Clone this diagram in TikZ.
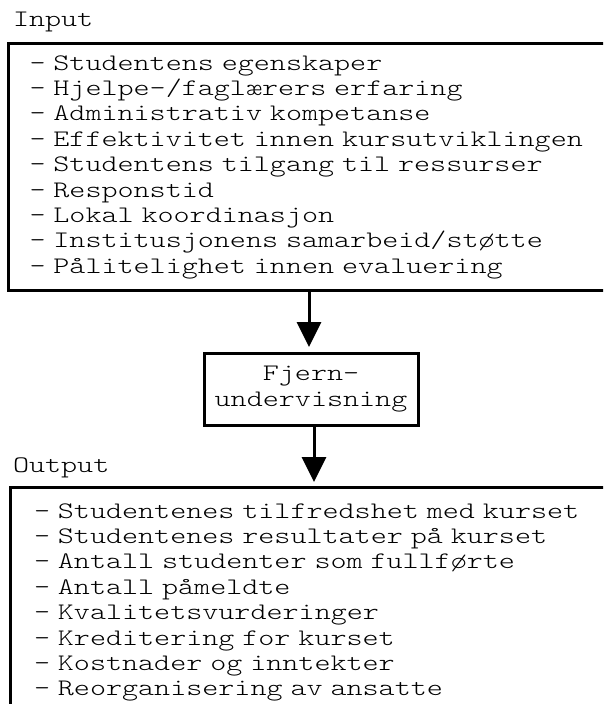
\documentclass[tikz,border=0pt]{standalone}
\usepackage{fontspec}
\setmainfont{lmmonolt10-regular.otf}[FakeStretch=1.29]
\usepackage{tikz}
\usetikzlibrary{positioning}
\usetikzlibrary{arrows.meta}

\newcommand{\listfont}{\fontsize{23.7pt}{25.4pt}\selectfont
  \setbox0\hbox{x}\fontdimen2\font=\wd0
  \fontdimen3\font=0pt \fontdimen4\font=0pt}
\newcommand{\topstrut}{\rule{0pt}{19pt}}
\newcommand{\botstrut}{\rule[-9pt]{0pt}{9pt}}

\begin{document}
\begin{tikzpicture}[
      x=1pt, y=-1pt,
      listbox/.style={draw, line width=3pt, outer sep=0pt, anchor=north west,
        align=left, text width=600pt, font=\listfont},
      midbox/.style={draw, line width=3pt, outer sep=0pt, align=center,
        minimum width=214pt, minimum height=72pt, font=\listfont},
      boxlabel/.style={font=\listfont, anchor=base west},
      flow/.style={line width=3pt, -{Triangle[width=24pt,length=25pt]}}
    ]
    \useasboundingbox (0,0) rectangle (603,704);
    \clip (0,0) rectangle (603,704);

    \node[listbox, inner xsep=21pt, inner ysep=8pt] (inbox) at (8.5,43) {
        \topstrut- Studentens egenskaper\\
        - Hjelpe-/faglærers erfaring\\
        - Administrativ kompetanse\\
        - Effektivitet innen kursutviklingen\\
        - Studentens tilgang til ressurser\\
        - Responstid\\
        - Lokal koordinasjon\\
        - Institusjonens samarbeid/støtte\\
        - Pålitelighet innen evaluering\botstrut
      };
    \node[above right=17pt and 1pt of inbox.north west, boxlabel] (inlabel) {Input};

    \node[midbox] (mid) at (311,389) {Fjern-\\undervisning};

    \node[listbox, inner xsep=24pt, inner ysep=12pt] (outbox) at (10,487) {
        \topstrut- Studentenes tilfredshet med kurset\\
        - Studentenes resultater på kurset\\
        - Antall studenter som fullførte\\
        - Antall påmeldte\\
        - Kvalitetsvurderinger\\
        - Kreditering for kurset\\
        - Kostnader og inntekter\\
        - Reorganisering av ansatte\botstrut
      };
    \node[above right=15pt and -0.5pt of outbox.north west, boxlabel] (outlabel) {Output};

    \draw[flow, shorten >=6pt] ([xshift=-2pt]mid.north |- inbox.south) -- ([xshift=-2pt]mid.north);
    \draw[flow, shorten >=5pt] ([xshift=3pt]mid.south) -- ([xshift=3pt]mid.south |- outbox.north);
\end{tikzpicture}
\end{document}
